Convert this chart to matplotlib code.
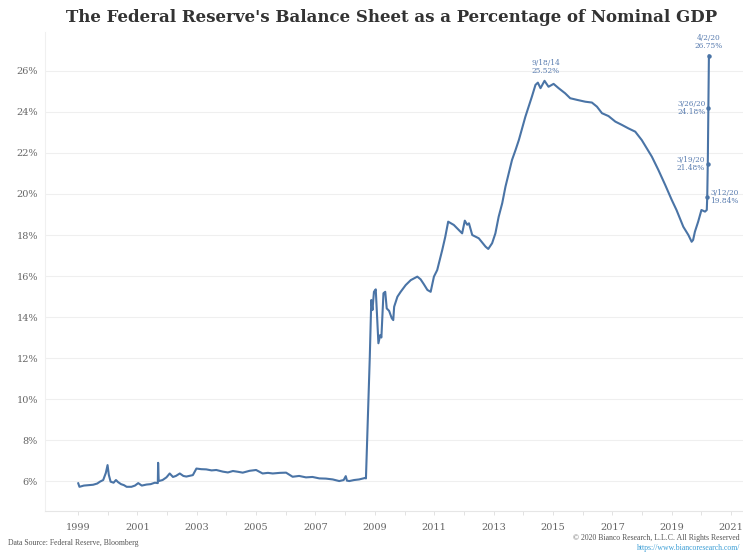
import matplotlib
matplotlib.use("Agg")
import matplotlib.pyplot as plt

# ---- data (decimal year, % of nominal GDP) ----
dates = [
    1999.01, 1999.05, 1999.20, 1999.35, 1999.51, 1999.65, 1999.74, 1999.85, 1999.94, 1999.997,
    2000.04, 2000.10, 2000.20, 2000.28, 2000.35, 2000.45, 2000.55, 2000.64, 2000.80, 2000.92,
    2001.03, 2001.15, 2001.31, 2001.45, 2001.59, 2001.69, 2001.70, 2001.72, 2001.85, 2001.98,
    2002.09, 2002.20, 2002.30, 2002.43, 2002.55, 2002.65, 2002.87, 2002.99, 2003.15, 2003.32,
    2003.50, 2003.66, 2003.88, 2004.05, 2004.22, 2004.40, 2004.55, 2004.78, 2005.00, 2005.22,
    2005.40, 2005.56, 2005.80, 2006.01, 2006.23, 2006.45, 2006.68, 2006.90, 2007.13, 2007.35,
    2007.58, 2007.80, 2007.95, 2008.02, 2008.06, 2008.14, 2008.30, 2008.47, 2008.67, 2008.70,
    2008.73, 2008.76, 2008.79, 2008.83, 2008.86, 2008.88, 2008.92, 2008.97, 2009.03, 2009.09,
    2009.12, 2009.18, 2009.22, 2009.29, 2009.35, 2009.40, 2009.48, 2009.57, 2009.62, 2009.65,
    2009.76, 2009.87, 2010.04, 2010.21, 2010.43, 2010.54, 2010.65, 2010.77, 2010.88, 2010.99,
    2011.10, 2011.27, 2011.37, 2011.47, 2011.66, 2011.83, 2011.94, 2012.03, 2012.11, 2012.17,
    2012.28, 2012.50, 2012.73, 2012.82, 2012.95, 2013.06, 2013.17, 2013.29, 2013.40, 2013.51,
    2013.62, 2013.74, 2013.85, 2014.07, 2014.29, 2014.41, 2014.49, 2014.58, 2014.715, 2014.85,
    2015.02, 2015.19, 2015.41, 2015.58, 2015.81, 2016.09, 2016.31, 2016.48, 2016.65, 2016.87,
    2017.10, 2017.32, 2017.54, 2017.77, 2017.99, 2018.16, 2018.33, 2018.55, 2018.78, 2019.00,
    2019.16, 2019.39, 2019.56, 2019.67, 2019.72, 2019.78, 2019.89, 2020.00, 2020.12, 2020.18,
    2020.195, 2020.214, 2020.233, 2020.252,
]
pct = [
    5.89, 5.72, 5.78, 5.80, 5.82, 5.88, 5.97, 6.05, 6.40, 6.78,
    6.30, 5.97, 5.92, 6.05, 5.95, 5.85, 5.80, 5.72, 5.72, 5.78,
    5.90, 5.78, 5.83, 5.85, 5.92, 5.90, 6.89, 6.00, 6.05, 6.18,
    6.37, 6.20, 6.25, 6.37, 6.25, 6.22, 6.29, 6.61, 6.58, 6.57,
    6.52, 6.54, 6.46, 6.42, 6.49, 6.45, 6.41, 6.50, 6.54, 6.37,
    6.40, 6.37, 6.40, 6.41, 6.21, 6.25, 6.18, 6.20, 6.13, 6.12,
    6.08, 6.00, 6.05, 6.24, 6.02, 6.00, 6.05, 6.08, 6.15, 6.13,
    7.50, 8.98, 10.28, 12.07, 13.80, 14.83, 14.34, 15.23, 15.35, 13.53,
    12.72, 13.12, 13.00, 15.16, 15.23, 14.42, 14.30, 13.94, 13.85, 14.50,
    14.99, 15.23, 15.56, 15.80, 15.97, 15.84, 15.60, 15.32, 15.23, 15.97,
    16.29, 17.27, 17.90, 18.65, 18.49, 18.24, 18.08, 18.70, 18.50, 18.57,
    18.00, 17.84, 17.43, 17.32, 17.60, 18.08, 18.89, 19.55, 20.36, 21.01,
    21.66, 22.15, 22.63, 23.77, 24.75, 25.32, 25.43, 25.16, 25.52, 25.23,
    25.37, 25.16, 24.91, 24.67, 24.59, 24.50, 24.46, 24.26, 23.94, 23.80,
    23.53, 23.37, 23.20, 23.04, 22.63, 22.22, 21.82, 21.17, 20.44, 19.71,
    19.22, 18.40, 18.00, 17.67, 17.76, 18.16, 18.65, 19.22, 19.14, 19.22,
    19.84, 21.48, 24.18, 26.75,
]

# annotated points
ann_dates = [2014.715, 2020.252, 2020.233, 2020.214, 2020.195]
ann_vals = [25.52, 26.75, 24.18, 21.48, 19.84]
ann_labels = ["9/18/14\n25.52%", "4/2/20\n26.75%", "3/26/20\n24.18%",
              "3/19/20\n21.48%", "3/12/20\n19.84%"]

year_ticks = list(range(1999, 2022))
year_labels = [str(y) if y % 2 == 1 else "" for y in year_ticks]
pct_ticks = list(range(6, 27, 2))
pct_labels = [f"{v}%" for v in pct_ticks]

title = "The Federal Reserve's Balance Sheet as a Percentage of Nominal GDP"

# ---- figure ----
W, H = 743, 560
fig = plt.figure(figsize=(W / 100, H / 100), dpi=100)
fig.patch.set_facecolor("white")
ax = fig.add_axes([45 / W, 1 - 511 / H, (W - 45) / W, (511 - 32) / H])

line_color = "#4a74a6"
ann_color = "#5a7db0"
serif = ["DejaVu Serif"]

ax.plot(dates, pct, color=line_color, lw=1.5, solid_joinstyle="round", zorder=3)
ax.plot(ann_dates[1:], ann_vals[1:], "o", color=line_color, ms=2.2, zorder=4)

ax.set_xlim(1997.89, 2021.40)
ax.set_ylim(4.54, 27.9)

ax.set_xticks(year_ticks)
ax.set_xticklabels(year_labels)
ax.set_yticks(pct_ticks)
ax.set_yticklabels(pct_labels)

for lab in ax.get_xticklabels() + ax.get_yticklabels():
    lab.set_family(serif)
    lab.set_fontsize(7.0)
    lab.set_color("#666666")

ax.tick_params(axis="x", length=3, width=0.6, color="#dddddd", pad=6)
ax.tick_params(axis="y", length=0, pad=5)

ax.grid(axis="y", color="#efefef", lw=0.8, zorder=0)
for s in ["top", "right"]:
    ax.spines[s].set_visible(False)
ax.spines["left"].set_color("#f0f0f0")
ax.spines["left"].set_linewidth(0.8)
ax.spines["bottom"].set_color("#e6e6e6")
ax.spines["bottom"].set_linewidth(0.8)

# annotations
fs_ann = 5.3
ax.annotate(ann_labels[0], (ann_dates[0], ann_vals[0]), xytext=(1, 4),
            textcoords="offset points", ha="center", va="bottom",
            fontsize=fs_ann, color=ann_color, family=serif, linespacing=1.0)
ax.annotate(ann_labels[1], (ann_dates[1], ann_vals[1]), xytext=(0, 4),
            textcoords="offset points", ha="center", va="bottom",
            fontsize=fs_ann, color=ann_color, family=serif, linespacing=1.0)
ax.annotate(ann_labels[2], (ann_dates[2], ann_vals[2]), xytext=(-2, 0),
            textcoords="offset points", ha="right", va="center",
            fontsize=fs_ann, color=ann_color, family=serif, linespacing=1.0)
ax.annotate(ann_labels[3], (ann_dates[3], ann_vals[3]), xytext=(-2, 0),
            textcoords="offset points", ha="right", va="center",
            fontsize=fs_ann, color=ann_color, family=serif, linespacing=1.0)
ax.annotate(ann_labels[4], (ann_dates[4], ann_vals[4]), xytext=(2, 0),
            textcoords="offset points", ha="left", va="center",
            fontsize=fs_ann, color=ann_color, family=serif, linespacing=1.0)

# title and footer
fig.text(392 / W, 1 - 17 / H, title, ha="center", va="center",
         fontsize=12.0, fontweight="bold", color="#333333", family=serif)
fig.text(8 / W, 1 - 543 / H, "Data Source: Federal Reserve, Bloomberg",
         ha="left", va="center", fontsize=5.6, color="#555555", family=["Liberation Serif"])
fig.text(740 / W, 1 - 538 / H, "© 2020 Bianco Research, L.L.C. All Rights Reserved",
         ha="right", va="center", fontsize=5.6, color="#555555", family=["Liberation Serif"])
fig.text(740 / W, 1 - 548 / H, "https://www.biancoresearch.com/",
         ha="right", va="center", fontsize=5.6, color="#3d9fd6", family=["Liberation Serif"])

fig.savefig("out.png", dpi=100)
